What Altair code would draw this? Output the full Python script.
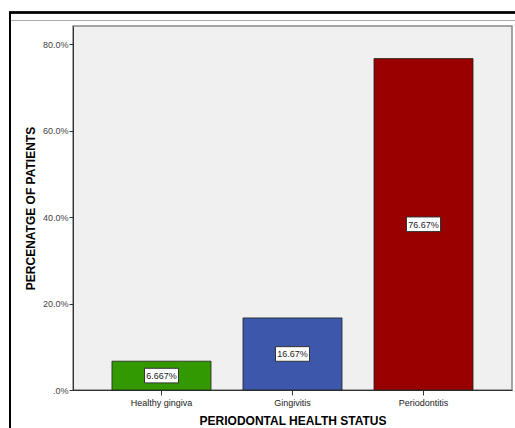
import altair as alt
import pandas as pd

# Periodontal health status of patients (percent of patients)
categories = ["Healthy gingiva", "Gingivitis", "Periodontitis"]
percentages = [6.667, 16.67, 76.67]
value_labels = ["6.667%", "16.67%", "76.67%"]
bar_colors = ["#339900", "#3d58aa", "#990000"]

df = pd.DataFrame({
    "status": categories,
    "pct": percentages,
    "label": value_labels,
    "mid": [p / 2 for p in percentages],
})

x_enc = alt.X(
    "status:N",
    sort=categories,
    scale=alt.Scale(paddingInner=0.244, paddingOuter=0.2975),
    axis=alt.Axis(
        title="PERIODONTAL HEALTH STATUS",
        titleFont="Liberation Sans", titleFontSize=12, titleFontWeight="bold",
        titleColor="#000000", titlePadding=8,
        labelFont="Liberation Sans", labelFontSize=9, labelColor="#222222",
        labelAngle=0, labelPadding=3,
        tickSize=5, tickColor="#333333", domainColor="#333333",
    ),
)

y_scale = alt.Scale(domain=[0, 84.2], nice=False)

bars = alt.Chart(df).mark_bar(stroke="#222222", strokeWidth=0.8).encode(
    x=x_enc,
    y=alt.Y(
        "pct:Q",
        scale=y_scale,
        axis=alt.Axis(
            title="PERCENATGE OF PATIENTS",
            titleFont="Liberation Sans", titleFontSize=12, titleFontWeight="bold",
            titleColor="#000000", titlePadding=5,
            labelFont="Liberation Sans", labelFontSize=9, labelColor="#444444",
            values=[0, 20, 40, 60, 80],
            labelExpr="datum.value == 0 ? '.0%' : format(datum.value, '.1f') + '%'",
            tickSize=4, tickColor="#333333", domainColor="#333333",
            grid=False, labelPadding=1,
        ),
    ),
    color=alt.Color("status:N", scale=alt.Scale(domain=categories, range=bar_colors), legend=None),
)

boxes = alt.Chart(df).mark_point(
    shape="M-1,-0.43 L1,-0.43 L1,0.43 L-1,0.43 Z",
    filled=True, fill="white", stroke="#333333", strokeWidth=1, opacity=1, size=34 * 34,
).encode(
    x=alt.X("status:N", sort=categories),
    y=alt.Y("mid:Q", scale=y_scale),
)

texts = alt.Chart(df).mark_text(
    font="Liberation Sans", fontSize=9, color="#222222", baseline="middle", dy=0.5,
).encode(
    x=alt.X("status:N", sort=categories),
    y=alt.Y("mid:Q", scale=y_scale),
    text="label:N",
)

# Outer frame lines around the figure
frame_top = alt.Chart(df).mark_rule(color="#000000", strokeWidth=2).encode(
    x=alt.value(-64), x2=alt.value(445), y=alt.value(-13.5)
)
frame_left = alt.Chart(df).mark_rule(color="#000000", strokeWidth=2).encode(
    x=alt.value(-63), y=alt.value(-14), y2=alt.value(410)
)
frame_inner = alt.Chart(df).mark_rule(color="#aaaaaa", strokeWidth=1).encode(
    x=alt.value(-62), x2=alt.value(445), y=alt.value(-5.5)
)

chart = alt.layer(frame_top, frame_left, frame_inner, bars, boxes, texts).properties(
    width=439,
    height=364,
    padding={"left": 73, "top": 26, "right": 3, "bottom": 38},
    autosize=alt.AutoSizeParams(type="none"),
    background="white",
).configure_view(
    fill="#f0f0f0", stroke="#888888", strokeWidth=1.5,
)

chart.save("out.html", embed_options={"renderer": "svg", "actions": False})
